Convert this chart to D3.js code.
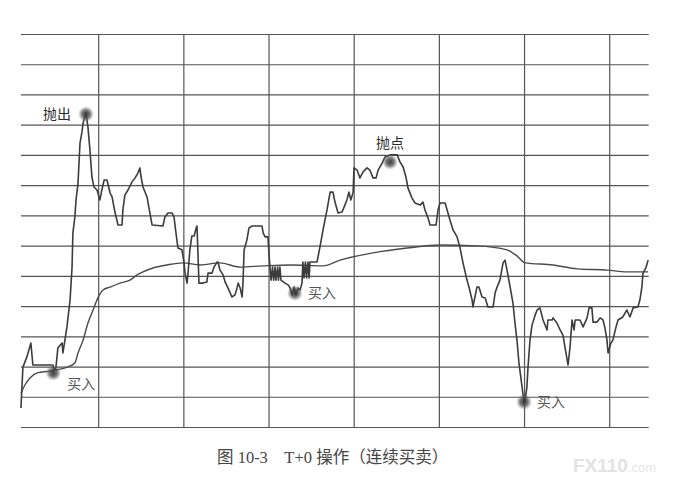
<!DOCTYPE html>
<html><head><meta charset="utf-8">
<script src="https://cdn.jsdelivr.net/npm/d3@7/dist/d3.min.js"></script>
<style>html,body{margin:0;padding:0;background:#fff;}svg{display:block;}</style>
</head><body>
<svg id="c" width="692" height="492"></svg>
<script>
// ---- data (time in minutes of the session, price in grid units) ----
const gridMinutes = [30, 60, 90, 120, 150, 180, 210];
const gridLevels = d3.range(0, 14);
const plotStart = 2.8, plotEnd = 223.9;

const priceMinutes = [2.8,3.5,4.9,6.3,7.0,8.8,14.1,14.4,15.1,15.8,17.3,17.6,19.0,20.1,20.8,21.1,21.8,22.2,22.9,23.6,24.3,24.7,25.7,26.4,27.1,27.8,28.5,29.6,30.6,31.3,32.1,33.1,34.2,34.9,35.9,37.0,38.4,38.7,39.4,40.5,41.9,43.0,44.0,44.7,45.1,45.8,47.2,47.9,49.0,52.8,53.5,54.6,56.0,56.7,57.4,58.1,59.5,60.2,60.6,61.3,61.6,62.3,63.0,63.8,64.5,64.8,65.2,65.5,66.9,68.3,68.7,70.1,70.8,71.9,72.2,72.9,74.0,74.7,75.7,77.1,78.2,78.9,79.3,80.0,80.7,81.0,81.4,82.4,83.1,84.2,87.7,88.1,88.8,89.8,90.2,90.5,90.9,91.4,91.8,92.3,92.6,93.2,93.5,94.0,94.4,95.8,96.9,97.6,98.3,99.0,99.7,100.4,101.1,101.8,102.1,102.5,103.0,103.4,103.9,104.3,104.6,107.1,108.1,109.2,110.6,111.7,112.7,113.4,114.5,115.9,116.9,117.6,118.3,119.0,119.8,120.1,121.2,122.2,123.3,124.7,125.7,126.8,127.9,128.6,130.0,131.0,132.8,135.3,136.3,137.4,138.4,139.1,140.5,141.6,143.4,144.4,145.1,146.2,146.9,149.0,149.7,150.4,152.2,152.9,153.9,155.0,156.4,157.4,158.5,159.9,160.6,161.7,162.0,163.4,164.1,165.2,166.3,167.3,169.1,169.8,170.5,171.5,172.6,173.3,174.0,175.1,176.1,176.8,177.5,178.2,179.3,180.0,180.4,181.0,181.4,182.1,182.8,183.9,184.6,185.6,186.7,188.1,188.4,189.9,190.2,191.6,192.7,193.7,194.4,195.5,196.2,196.9,197.6,198.0,199.7,200.8,202.2,202.9,203.9,204.3,205.7,206.8,207.8,208.5,209.2,209.6,210.6,211.3,212.4,213.1,214.8,216.2,217.3,218.4,220.1,220.8,221.5,221.9,222.9,223.7];
const priceValues = [0.63,1.98,2.32,2.78,2.05,2.05,2.05,1.89,1.95,2.61,2.78,2.45,3.31,4.20,5.29,6.42,6.95,7.51,8.07,9.39,9.76,10.06,10.39,9.92,9.16,8.27,7.94,7.84,7.51,7.84,8.17,8.17,7.74,7.61,7.11,6.68,6.68,7.18,7.67,7.84,8.10,8.24,8.40,8.57,8.27,7.94,7.61,7.24,6.68,6.65,6.95,7.08,7.08,6.95,6.42,5.92,5.86,5.46,5.09,4.76,5.03,5.86,6.32,6.32,6.58,6.65,5.59,4.76,4.76,4.80,5.09,5.09,5.29,5.46,5.46,5.19,5.03,4.80,4.60,4.30,4.37,4.60,4.76,4.60,4.30,4.76,5.86,6.19,6.58,6.65,6.65,6.42,6.29,6.29,5.69,5.29,4.86,5.29,4.86,5.29,4.86,5.29,4.86,5.29,4.86,4.76,4.70,4.60,4.37,4.63,4.37,4.60,4.53,4.76,5.46,4.93,5.46,4.93,5.46,4.93,5.46,5.46,5.95,6.52,7.18,7.77,7.77,7.44,7.08,7.11,7.34,7.51,7.77,7.51,7.77,8.57,8.50,8.24,8.44,8.57,8.50,8.24,8.24,8.50,8.73,8.93,9.00,9.00,8.77,8.60,8.27,7.91,7.58,7.41,7.34,7.44,7.18,6.91,6.68,6.68,7.18,7.41,7.41,7.18,6.85,6.52,6.29,5.95,5.43,4.86,4.63,4.20,3.97,4.63,4.63,4.30,4.27,3.97,3.97,4.43,4.63,4.86,5.43,5.52,5.19,4.63,4.10,3.44,2.88,2.12,1.32,0.79,0.89,1.32,1.98,2.88,3.37,3.70,3.87,3.94,3.54,3.21,3.54,3.54,3.61,3.44,3.21,3.04,2.65,2.05,2.65,3.54,3.21,3.54,3.54,3.31,3.61,3.94,3.94,3.47,3.47,3.61,3.54,3.27,2.88,2.45,2.78,2.88,3.31,3.54,3.64,3.87,3.64,3.94,3.97,4.20,4.63,5.09,5.26,5.52];

const avgMinutes = [2.8,4.2,6.0,8.5,13.0,19.0,21.8,22.9,24.7,26.4,28.2,29.9,31.7,34.2,37.7,41.2,43.7,45.8,49.3,54.2,59.9,65.9,72.9,80.0,88.1,97.6,109.2,115.2,126.8,138.8,150.4,163.4,174.0,177.5,180.4,190.2,198.7,209.2,216.2,223.7];
const avgValues = [1.12,1.39,1.62,1.79,1.85,1.98,2.12,2.45,2.88,3.44,3.87,4.27,4.53,4.63,4.76,4.86,5.03,5.13,5.26,5.36,5.43,5.36,5.43,5.29,5.33,5.36,5.33,5.52,5.76,5.92,6.02,5.99,5.86,5.66,5.43,5.36,5.23,5.19,5.13,5.13];

const markerLabels = ["抛出", "买入", "买入", "抛点", "买入"];
const markerMinutes = [25.7, 14.2, 99.3, 132.8, 180.0];
const markerValues = [10.35, 1.79, 4.43, 8.77, 0.83];
const markerSide = ["left", "below-right", "right", "above", "right"];

const caption = "图 10-3\u3000T+0 操作（连续买卖）";

// ---- drawing ----
const svg = d3.select("#c");
const x = d3.scaleLinear().domain([0, 240]).range([13, 694.4]);
const y = d3.scaleLinear().domain([0, 13]).range([427, 34]);

const defs = svg.append("defs");
const rg = defs.append("radialGradient").attr("id", "blob");
rg.append("stop").attr("offset", "0%").attr("stop-color", "#333").attr("stop-opacity", 0.95);
rg.append("stop").attr("offset", "50%").attr("stop-color", "#4a4a4a").attr("stop-opacity", 0.75);
rg.append("stop").attr("offset", "100%").attr("stop-color", "#777").attr("stop-opacity", 0);

// horizontal grid
const hAxis = d3.axisLeft(y).tickValues(gridLevels).tickFormat("")
  .tickSize(-(x(plotEnd) - x(plotStart)));
svg.append("g").attr("transform", `translate(${x(plotStart)},0)`).call(hAxis)
  .call(g => g.select(".domain").remove())
  .call(g => g.selectAll("line").attr("stroke", "#555").attr("stroke-width", 1.2));

// vertical grid
const vAxis = d3.axisBottom(x).tickValues(gridMinutes).tickFormat("")
  .tickSize(-(y(0) - y(13)));
svg.append("g").attr("transform", `translate(0,${y(0)})`).call(vAxis)
  .call(g => g.select(".domain").remove())
  .call(g => g.selectAll("line").attr("stroke", "#555").attr("stroke-width", 1.2));

// average line
const avgData = avgMinutes.map((m, i) => [m, avgValues[i]]);
svg.append("path").datum(avgData)
  .attr("fill", "none").attr("stroke", "#4a4a4a").attr("stroke-width", 1.4)
  .attr("d", d3.line().x(d => x(d[0])).y(d => y(d[1])).curve(d3.curveMonotoneX));

// price line
const priceData = priceMinutes.map((m, i) => [m, priceValues[i]]);
svg.append("path").datum(priceData)
  .attr("fill", "none").attr("stroke", "#3c3c3c").attr("stroke-width", 1.6)
  .attr("stroke-linejoin", "round")
  .attr("d", d3.line().x(d => x(d[0])).y(d => y(d[1])));

// markers
const mk = markerLabels.map((t, i) => ({t, m: markerMinutes[i], v: markerValues[i], side: markerSide[i]}));
svg.selectAll("circle.blob").data(mk).join("circle").attr("class", "blob")
  .attr("cx", d => x(d.m)).attr("cy", d => y(d.v)).attr("r", 8)
  .attr("fill", "url(#blob)");

const fam = "'Noto Sans CJK SC', sans-serif";
svg.selectAll("text.lbl").data(mk).join("text").attr("class", "lbl")
  .attr("font-family", fam).attr("font-size", 14)
  .attr("fill", d => d.t === "买入" ? "#555" : "#2a2a2a")
  .attr("font-weight", 400)
  .attr("text-anchor", d => d.side === "left" ? "end" : (d.side === "above" ? "middle" : "start"))
  .attr("x", d => x(d.m) + (d.side === "left" ? -15 : d.side === "above" ? 0 : d.side === "below-right" ? 14 : 13))
  .attr("y", d => y(d.v) + (d.side === "above" ? -14 : d.side === "below-right" ? 16 : 5))
  .text(d => d.t);

// caption
svg.append("text").attr("x", 217).attr("y", 463)
  .attr("font-family", "'Liberation Serif', 'Noto Sans CJK SC', serif")
  .attr("font-size", 16.5).attr("fill", "#444")
  .text(caption);

// watermark
const wm = svg.append("text").attr("x", 573).attr("y", 472)
  .attr("font-family", "'Liberation Sans', Arial, sans-serif").attr("fill", "#e2e2e2");
wm.append("tspan").attr("font-size", 19).attr("font-weight", 700).text("FX110");
wm.append("tspan").attr("font-size", 13).attr("fill", "#e6e6e6").text(".com");
</script>
</body></html>
